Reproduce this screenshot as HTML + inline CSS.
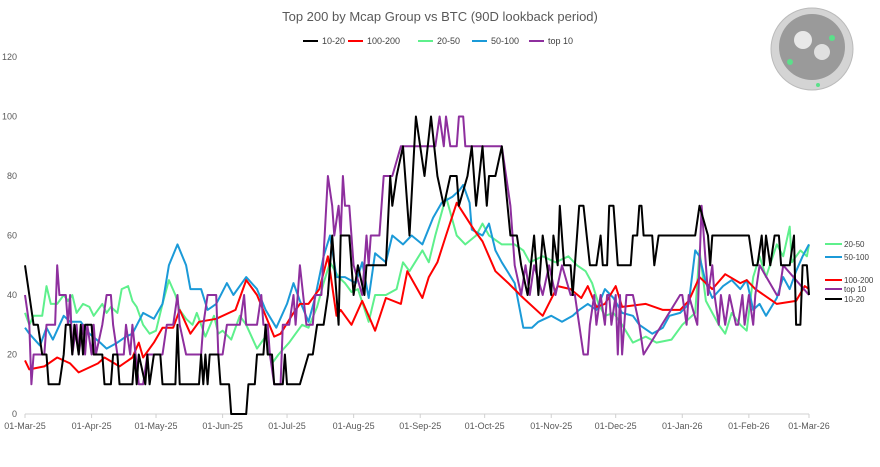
<!DOCTYPE html>
<html><head><meta charset="utf-8"><style>
body{margin:0;background:#fff;}
svg{display:block;font-family:"Liberation Sans",sans-serif;}
</style></head><body>
<svg id="chart" width="880" height="467">
<text x="440" y="21" text-anchor="middle" font-size="13" fill="#595959">Top 200 by Mcap Group vs BTC (90D lookback period)</text>
<g>
<circle cx="812" cy="49" r="41" fill="#d4d4d4" stroke="#bbb" stroke-width="1"/>
<circle cx="812" cy="47" r="33" fill="#9a9a9a"/>
<circle cx="803" cy="40" r="9" fill="#e8e8e8"/>
<circle cx="822" cy="52" r="8" fill="#e0e0e0"/>
<circle cx="790" cy="62" r="3" fill="#5be08a"/><circle cx="832" cy="38" r="3" fill="#5be08a"/><circle cx="818" cy="85" r="2" fill="#5be08a"/>
</g>
<g id="legend-top"></g>
<g id="axes"></g>
<g id="series"></g>
<g id="legend-right"></g>
</svg>
<script>
const monthLabels=["01-Mar-25","01-Apr-25","01-May-25","01-Jun-25","01-Jul-25","01-Aug-25","01-Sep-25","01-Oct-25","01-Nov-25","01-Dec-25","01-Jan-26","01-Feb-26","01-Mar-26"];
const monthDays=[0,31,61,92,122,153,184,214,245,275,306,337,365];
const yTicks=[0,20,40,60,80,100,120];
const seriesNames=["10-20","100-200","20-50","50-100","top 10"];
const seriesColors=["#000000","#ff0000","#5ef08c","#1b9ad8","#8e2f9e"];

const blackDays=[0,2,4,6,8,10,11,16,18,19,21,22,23,25,26,27,28,31,32,36,37,40,41,43,44,50,51,52,53,56,57,58,60,63,64,70,71,72,81,82,83,84,85,86,90,91,95,96,103,104,107,108,111,112,113,115,116,120,121,122,128,132,134,136,139,141,143,145,146,147,151,153,155,158,159,168,170,171,173,176,179,182,186,189,192,195,198,201,202,206,208,210,213,215,216,219,222,226,229,231,234,237,239,241,245,246,248,249,251,254,255,258,260,263,266,268,269,271,272,274,276,282,283,285,286,287,288,292,293,295,312,314,318,319,320,337,339,341,343,344,345,347,349,351,352,356,358,359,361,362,364,365];
const blackVals=[50,40,30,30,20,20,10,10,20,30,30,20,30,20,30,20,30,30,20,20,10,10,20,20,10,10,20,10,20,10,20,10,20,20,10,10,30,10,10,20,10,20,10,20,20,10,10,0,0,10,10,20,20,30,20,20,10,10,20,10,10,20,20,30,30,40,60,40,30,60,60,40,50,40,50,50,80,70,80,90,60,100,80,100,80,70,80,80,70,80,90,70,90,70,80,80,90,60,60,50,40,60,40,60,40,60,50,70,50,50,40,70,70,50,50,60,50,50,70,70,50,50,60,60,70,70,60,60,50,60,60,70,60,50,60,60,50,50,60,50,60,50,60,60,50,50,60,30,30,50,50,40];

const redDays=[0,2,9,15,21,25,31,34,37,44,50,53,55,60,64,69,72,77,81,89,98,103,108,112,116,119,125,128,132,137,141,145,147,152,157,163,168,175,178,185,188,192,196,201,209,213,219,225,232,241,248,254,259,262,266,270,275,278,289,297,305,309,314,320,326,333,336,340,350,359,363,365];
const redVals=[18,15,16,19,17,14,16,17,19,16,19,24,19,24,29,29,35,27,31,32,35,45,40,33,26,27,34,37,37,42,53,33,35,30,38,28,39,37,48,39,46,51,60,71,62,58,48,44,39,33,43,42,39,43,36,37,43,36,37,35,35,38,46,42,47,44,45,42,37,38,43,42];

const greenDays=[0,2,4,8,10,12,15,18,20,22,24,27,30,32,36,38,40,43,45,48,50,52,55,58,61,64,67,70,72,75,78,80,84,88,90,92,96,100,103,108,112,115,118,123,126,129,132,136,139,142,146,149,152,155,160,163,168,173,176,179,185,188,191,196,201,205,210,213,216,222,228,232,235,241,247,253,257,261,264,267,270,274,278,283,289,294,301,306,312,314,317,320,323,326,329,333,336,339,342,345,350,353,356,357,361,364,365];
const greenVals=[34,30,33,33,43,37,37,40,38,40,34,37,36,33,37,34,36,34,42,43,38,36,30,27,28,37,45,40,35,32,30,34,26,33,27,28,25,33,30,22,26,17,20,24,27,30,29,36,44,51,46,44,41,42,31,40,40,42,51,48,55,51,60,73,60,57,60,64,60,57,57,55,51,53,51,53,50,48,44,37,33,34,30,24,26,24,25,30,34,55,38,34,30,27,34,30,28,46,53,46,57,53,63,51,55,53,57];

const blueDays=[0,2,7,10,13,18,21,26,30,35,38,43,47,50,55,60,64,67,71,75,77,82,85,89,94,97,103,108,112,117,122,125,128,132,135,139,142,145,149,154,157,160,163,168,171,176,180,185,190,194,199,202,204,207,208,213,216,219,222,228,232,236,239,245,250,255,258,262,266,270,274,278,283,286,292,297,300,305,309,312,314,317,320,325,329,333,336,339,342,345,350,353,356,359,362,365];
const blueVals=[29,27,23,29,25,33,31,31,27,24,22,24,26,27,34,32,37,50,57,50,42,42,35,37,44,40,46,42,35,29,37,44,38,31,39,53,60,46,46,44,51,39,54,51,60,57,60,57,66,71,73,75,77,71,62,60,64,55,51,44,29,29,31,33,31,33,35,37,35,42,39,34,33,30,27,29,33,34,37,55,53,44,39,43,45,42,45,35,37,33,39,46,42,48,53,57];

const purpleDays=[0,2,3,4,9,10,14,15,16,19,20,21,22,24,25,27,28,29,31,32,33,36,38,40,41,43,46,47,49,50,53,55,57,64,66,69,71,72,75,82,83,85,89,90,92,94,100,102,103,108,110,111,113,114,116,119,120,123,125,126,128,131,134,135,138,141,143,144,146,147,148,149,151,153,157,159,160,161,165,167,171,175,191,193,195,196,198,201,202,204,205,222,224,226,228,231,233,235,237,241,244,247,250,254,256,258,260,262,263,265,266,268,270,271,272,273,275,276,277,278,280,283,286,288,305,306,308,309,313,315,317,318,320,321,323,324,326,328,331,332,334,335,337,339,340,342,350,351,353,365];
const purpleVals=[40,30,10,20,20,30,30,50,40,40,30,40,20,30,20,30,20,30,20,30,20,30,40,40,30,20,20,30,20,30,10,10,20,20,30,30,40,30,20,20,30,40,40,20,20,30,30,40,30,30,40,30,30,20,10,10,30,30,40,30,50,30,30,40,40,80,70,60,70,60,80,70,70,50,40,60,50,60,60,80,80,90,90,100,90,100,90,90,100,100,90,90,80,70,50,40,50,40,50,40,50,40,50,40,40,30,20,20,30,40,30,40,30,40,40,30,40,20,40,20,40,40,30,20,40,40,30,40,30,70,50,40,50,40,30,40,30,40,30,30,40,30,40,30,40,50,40,40,50,40,40];

const allDays=[blackDays,redDays,greenDays,blueDays,purpleDays];
const allVals=[blackVals,redVals,greenVals,blueVals,purpleVals];

const X0=25,X1=809,Y0=414,Y1=57,DMAX=365,VMAX=120;
const xs=d=>X0+(X1-X0)*d/DMAX;
const ys=v=>Y0-(Y0-Y1)*v/VMAX;
const NS="http://www.w3.org/2000/svg";
function mk(tag,attrs,parent){const e=document.createElementNS(NS,tag);for(const k in attrs)e.setAttribute(k,attrs[k]);parent.appendChild(e);return e;}

const axes=document.getElementById('axes');
const xl=mk('line',{x1:X0,x2:X1,y1:Y0,y2:Y0,stroke:'#d0d0d0','stroke-width':1},axes);


yTicks.forEach(v=>{
  const t=mk('text',{x:17,y:ys(v)+3,'text-anchor':'end','font-size':9,fill:'#595959'},axes);
  t.textContent=v;
  
  
});
monthLabels.forEach((lab,i)=>{
  const x=xs(monthDays[i]);
  const tk=mk('line',{x1:x,x2:x,y1:Y0,y2:Y0+4,stroke:'#d0d0d0'},axes);
  
  
  const t=mk('text',{x:x,y:429,'text-anchor':'middle','font-size':9,fill:'#595959'},axes);
  t.textContent=lab;
  
  
});

const sg=document.getElementById('series');
const drawOrder=[2,3,1,4,0];
drawOrder.forEach(i=>{
  const pts=allDays[i].map((d,j)=>xs(d).toFixed(1)+','+ys(allVals[i][j]).toFixed(1)).join(' ');
  const p=mk('polyline',{points:pts,fill:'none',stroke:seriesColors[i],'stroke-width':2,'stroke-linejoin':'round'},sg);
  
  
});

const lt=document.getElementById('legend-top');
const topX=[303,348,418,472,529];
seriesNames.forEach((n,i)=>{
  const g=mk('g',{},lt);
  
  
  mk('line',{x1:topX[i],x2:topX[i]+15,y1:41,y2:41,stroke:seriesColors[i],'stroke-width':2},g);
  const t=mk('text',{x:topX[i]+19,y:44,'font-size':9,fill:'#404040'},g);
  t.textContent=n;
});

const lr=document.getElementById('legend-right');
const rightOrder=[2,3,1,4,0];
const rightY=[244,257,280,289,299];
rightOrder.forEach((i,k)=>{
  const g=mk('g',{},lr);
  
  
  mk('line',{x1:825,x2:842,y1:rightY[k],y2:rightY[k],stroke:seriesColors[i],'stroke-width':2},g);
  const t=mk('text',{x:844,y:rightY[k]+3,'font-size':8,fill:'#404040'},g);
  t.textContent=seriesNames[i];
});
</script>
</body></html>
